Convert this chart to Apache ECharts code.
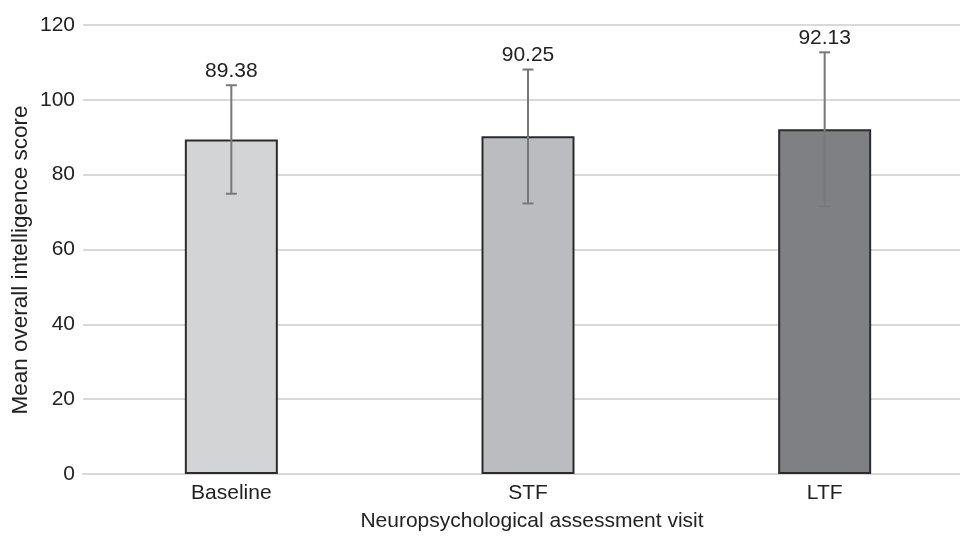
<!DOCTYPE html>
<html>
<head>
<meta charset="utf-8">
<script src="https://cdn.jsdelivr.net/npm/echarts@6/dist/echarts.min.js"></script>
<style>
html,body{margin:0;padding:0;background:#fff;overflow:hidden;width:960px;height:537px;}
#chart{width:973px;height:537px;}
</style>
</head>
<body>
<div id="chart"></div>
<script>
var categories = ['Baseline', 'STF', 'LTF'];
var means = [89.38, 90.25, 92.13];
var errLow = [74.9, 72.3, 71.5];
var errHigh = [103.9, 108.1, 112.7];
var meanLabels = ['89.38', '90.25', '92.13'];
var barColors = ['#d3d4d6', '#bbbcc0', '#7f8084'];
var yTicks = [0, 20, 40, 60, 80, 100, 120];
var yTitle = 'Mean overall intelligence score';
var xTitle = 'Neuropsychological assessment visit';

var FONT = '"Liberation Sans", Arial, Helvetica, sans-serif';
var chart = echarts.init(document.getElementById('chart'));

var errData = categories.map(function (c, i) { return [i, errLow[i], errHigh[i], meanLabels[i]]; });

chart.setOption({
  animation: false,
  backgroundColor: '#ffffff',
  textStyle: { fontFamily: FONT },
  grid: { left: 83, top: 25, right: 0, bottom: 63, containLabel: false },
  graphic: [
    { type: 'text', x: 21, y: 260, rotation: Math.PI / 2,
      style: { text: yTitle, fill: '#222', font: '22.5px ' + FONT, align: 'center', verticalAlign: 'middle' } },
    { type: 'text', x: 532, y: 521,
      style: { text: xTitle, fill: '#222', font: '21px ' + FONT, align: 'center', verticalAlign: 'middle' } }
  ],
  xAxis: {
    type: 'category',
    data: categories,
    axisLine: { show: true, lineStyle: { color: '#d9d9d9', width: 2 } },
    axisTick: { show: false },
    axisLabel: { color: '#222', fontSize: 21, margin: 9, fontFamily: FONT }
  },
  yAxis: {
    type: 'value',
    min: 0, max: 120, interval: 20,
    axisLine: { show: false },
    axisTick: { show: false },
    axisLabel: { color: '#222', fontSize: 21, margin: 8, fontFamily: FONT,
      formatter: function (v) { return yTicks.indexOf(v) >= 0 ? String(v) : ''; } },
    splitLine: { lineStyle: { color: '#d9d9d9', width: 2 } }
  },
  series: [
    {
      type: 'bar',
      barWidth: 93,
      data: means.map(function (v, i) {
        return { value: v, itemStyle: { color: barColors[i] } };
      }),
      itemStyle: { borderColor: '#2b2b2b', borderWidth: 2 }
    },
    {
      type: 'custom',
      data: errData,
      z: 10,
      renderItem: function (params, api) {
        var x = api.value(0);
        var lo = api.coord([x, api.value(1)]);
        var hi = api.coord([x, api.value(2)]);
        var hw = 5.5;
        var st = { stroke: '#787878', lineWidth: 2 };
        return {
          type: 'group',
          children: [
            { type: 'line', shape: { x1: hi[0], y1: hi[1], x2: lo[0], y2: lo[1] }, style: st },
            { type: 'line', shape: { x1: hi[0] - hw, y1: hi[1], x2: hi[0] + hw, y2: hi[1] }, style: st },
            { type: 'line', shape: { x1: lo[0] - hw, y1: lo[1], x2: lo[0] + hw, y2: lo[1] }, style: st },
            { type: 'text', x: hi[0], y: hi[1] - 4,
              style: { text: api.value(3), fill: '#222', font: '21px ' + FONT, align: 'center', verticalAlign: 'bottom' } }
          ]
        };
      }
    }
  ]
});
</script>
</body>
</html>
